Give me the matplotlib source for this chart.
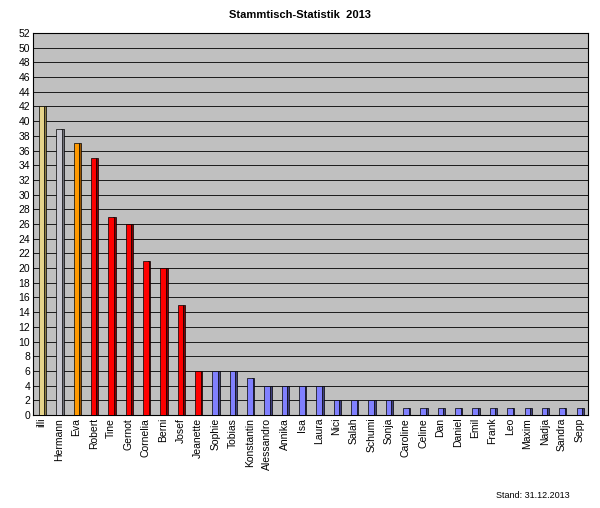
import matplotlib.pyplot as plt
import numpy as np

names = ['illi', 'Hermann', 'Eva', 'Robert', 'Tine', 'Gernot', 'Cornelia', 'Berni', 'Josef',
         'Jeanette', 'Sophie', 'Tobias', 'Konstantin', 'Alessandro', 'Annika', 'Isa', 'Laura',
         'Nici', 'Salah', 'Schumi', 'Sonja', 'Caroline', 'Celine', 'Dan', 'Daniel', 'Emil',
         'Frank', 'Leo', 'Maxim', 'Nadja', 'Sandra', 'Sepp']
counts = [42, 39, 37, 35, 27, 26, 21, 20, 15, 6, 6, 6, 5, 4, 4, 4, 4,
          2, 2, 2, 2, 1, 1, 1, 1, 1, 1, 1, 1, 1, 1, 1]
colors = ['#e6d48a', '#c8c8d0', '#ff9900'] + ['#ff0000'] * 7 + ['#8080ff'] * 22
sides = ['#8a7a40', '#707078', '#995500'] + ['#800000'] * 7 + ['#40407f'] * 22

fig = plt.figure(figsize=(6, 5.08), dpi=100)
ax = fig.add_axes([0.055, 0.183, 0.925, 0.752])
ax.set_facecolor('#c0c0c0')

x = np.arange(len(names))
ax.bar(x + 0.2, counts, width=0.12, color=sides, edgecolor='black', linewidth=0.5, zorder=2)
ax.bar(x, counts, width=0.32, color=colors, edgecolor='black', linewidth=0.5, zorder=3)

ax.set_xlim(-0.5, len(names) - 0.5)
ax.set_ylim(0, 52)
ax.set_yticks(range(0, 53, 2))
ax.grid(axis='y', color='black', linewidth=0.6, zorder=1)
ax.set_xticks(x)
ax.set_xticklabels(names, rotation=90, fontsize=7.5, family='Liberation Sans')
for t in ax.get_yticklabels():
    t.set_fontsize(7.5)
    t.set_family('Liberation Sans')
ax.tick_params(length=0, pad=2)

fig.text(0.5, 0.97, 'Stammtisch-Statistik  2013', ha='center', va='center',
         fontsize=8, fontweight='bold', family='Liberation Sans')
fig.text(0.95, 0.025, 'Stand: 31.12.2013', ha='right', va='center',
         fontsize=6.5, family='Liberation Sans')

fig.savefig('out.png', dpi=100)
